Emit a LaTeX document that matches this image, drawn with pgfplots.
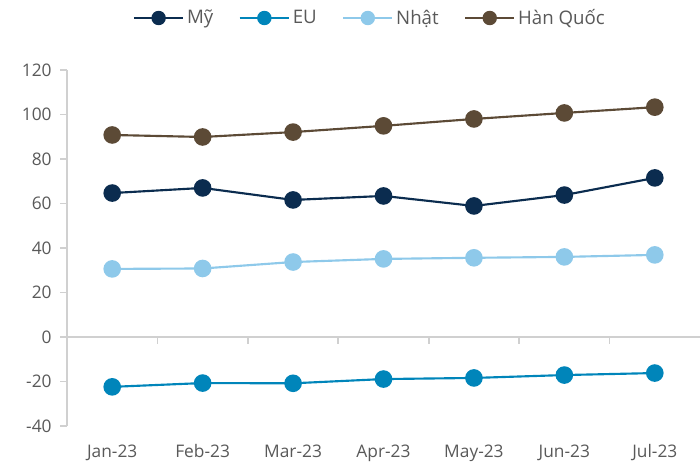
\documentclass[border=0pt]{standalone}
\usepackage{fontspec}
\setmainfont{Open Sans}
\usepackage{pgfplots}
\pgfplotsset{compat=1.18}
\definecolor{cMy}{HTML}{0B2C4F}
\definecolor{cEU}{HTML}{0085BA}
\definecolor{cJP}{HTML}{8EC9EA}
\definecolor{cKR}{HTML}{5C4A36}
\definecolor{txt}{HTML}{595959}
\definecolor{axl}{HTML}{D0D0D0}

\begin{document}
\begin{tikzpicture}
\begin{axis}[
  name=ax,
  scale only axis,
  width=474.75pt, height=267pt,
  xmin=-0.5, xmax=6.5,
  ymin=-40, ymax=120,
  ytick={-40,-20,...,120},
  xtick={0,...,6},
  xticklabels={Jan-23,Feb-23,Mar-23,Apr-23,May-23,Jun-23,Jul-23},
  axis x line*=bottom,
  axis y line*=left,
  x axis line style={draw=none},
  y axis line style={axl, line width=1.2pt},
  x tick style={draw=none},
  y tick style={axl, line width=1.2pt},
  tick align=outside,
  major tick length=5pt,
  ticklabel style={font=\fontsize{13}{15}\selectfont, text=txt},
  /pgf/number format/assume math mode=true,
  xticklabel style={yshift=-5.5pt},
  yticklabel style={xshift=-3pt},
  clip=false,
  legend style={at={(0.5,1)}, anchor=center, yshift=39pt, xshift=-10pt,
    draw=none, fill=none,
    font=\fontsize{14}{16}\selectfont, text=txt, legend columns=4,
    /tikz/every even column/.append style={column sep=17pt}},
  legend image code/.code={
    \draw[#1, mark=none] (0pt,0pt) -- (37pt,0pt);
    \fill[#1] (18.5pt,0pt) circle (4.6pt);
  },
]
% zero line with category separators
\draw[axl, line width=1.2pt] (axis cs:-0.5,0) -- (axis cs:6.5,0);
\pgfplotsinvokeforeach{0.5,1.5,2.5,3.5,4.5,5.5}{
  \draw[axl, line width=1.2pt] (axis cs:#1,0) -- ([yshift=-5pt]axis cs:#1,0);
}
\addplot[cMy, line width=1.6pt, mark=*, mark size=5.8pt] coordinates {
  (0,64.7) (1,67.0) (2,61.6) (3,63.4) (4,58.9) (5,63.8) (6,71.5)
};
\addlegendentry{Mỹ}
\addplot[cEU, line width=1.6pt, mark=*, mark size=5.8pt] coordinates {
  (0,-22.4) (1,-20.7) (2,-20.8) (3,-18.9) (4,-18.4) (5,-17.1) (6,-16.2)
};
\addlegendentry{EU}
\addplot[cJP, line width=1.6pt, mark=*, mark size=5.8pt] coordinates {
  (0,30.6) (1,30.8) (2,33.7) (3,35.1) (4,35.6) (5,36.0) (6,36.9)
};
\addlegendentry{Nhật}
\addplot[cKR, line width=1.6pt, mark=*, mark size=5.8pt] coordinates {
  (0,90.8) (1,89.9) (2,92.1) (3,94.9) (4,98.0) (5,100.7) (6,103.3)
};
\addlegendentry{Hàn Quốc}
\end{axis}
\pgfresetboundingbox
\path ([shift={(-50.25pt,-29.25pt)}]ax.south west) rectangle ([shift={(0pt,52.5pt)}]ax.north east);
\end{tikzpicture}
\end{document}
